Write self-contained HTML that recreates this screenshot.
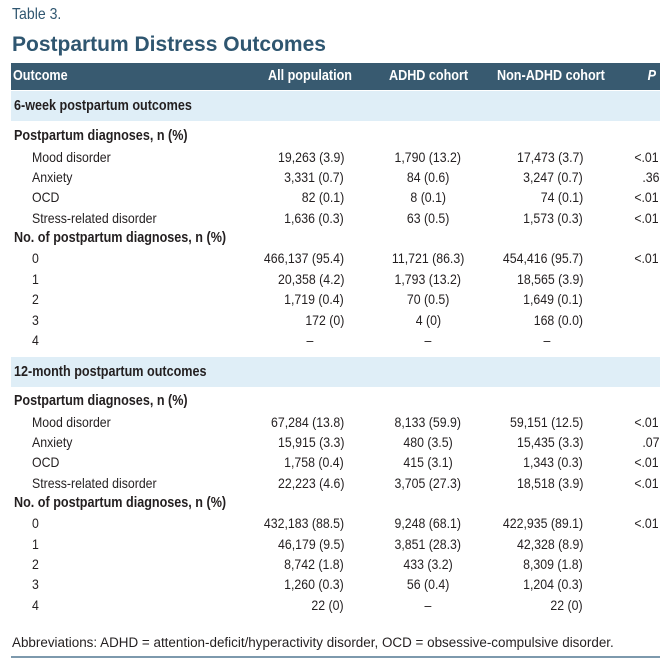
<!DOCTYPE html>
<html><head><meta charset="utf-8"><style>
body{margin:0;width:672px;height:669px;background:#fff;position:relative;font-family:"Liberation Sans",sans-serif;color:#231f20;overflow:hidden}
.a{position:absolute;white-space:nowrap;font-size:14px;line-height:20px}
.a span{display:inline-block;transform:scaleX(0.88)}
.L span{transform-origin:left center}
.R span{transform-origin:right center}
.C span{transform-origin:center center}
.K span{transform:scaleX(0.84)}
.band{position:absolute;left:11px;width:649px;height:30px;background:#dfeef7}
</style></head><body>
<div class="a L" style="left:12px;top:5px;font-size:16px;color:#2f5670"><span>Table 3.</span></div>
<div class="a" style="left:12px;top:33px;font-weight:bold;font-size:21px;color:#2f5670;line-height:24px">Postpartum Distress Outcomes</div>
<div style="position:absolute;left:11px;top:63px;width:649px;height:27px;background:#385a70"></div>
<div class="band" style="top:91px"></div>
<div class="band" style="top:357px"></div>
<div id="rows"></div>
<div class="a L" style="left:12px;top:633px;font-size:13.5px"><span style="transform:scaleX(0.995)">Abbreviations: ADHD = attention-deficit/hyperactivity disorder, OCD = obsessive-compulsive disorder.</span></div>
<div style="position:absolute;left:11px;top:656px;width:649px;height:2px;background:#7d99ad"></div>
<script>
const rows=[
[66,'h','Outcome','All population','ADHD cohort','Non-ADHD cohort','P'],
[96,'s','6-week postpartum outcomes'],
[126,'g','Postpartum diagnoses, n (%)'],
[147,'r','Mood disorder','19,263 (3.9)','1,790 (13.2)','17,473 (3.7)','<.01'],
[167,'r','Anxiety','3,331 (0.7)','84 (0.6)','3,247 (0.7)','.36'],
[187,'r','OCD','82 (0.1)','8 (0.1)','74 (0.1)','<.01'],
[208,'r','Stress-related disorder','1,636 (0.3)','63 (0.5)','1,573 (0.3)','<.01'],
[228,'g','No. of postpartum diagnoses, n (%)'],
[248,'r','0','466,137 (95.4)','11,721 (86.3)','454,416 (95.7)','<.01'],
[269,'r','1','20,358 (4.2)','1,793 (13.2)','18,565 (3.9)',''],
[289,'r','2','1,719 (0.4)','70 (0.5)','1,649 (0.1)',''],
[310,'r','3','172 (0)','4 (0)','168 (0.0)',''],
[330,'r','4','–','–','–',''],
[362,'s','12-month postpartum outcomes'],
[391,'g','Postpartum diagnoses, n (%)'],
[412,'r','Mood disorder','67,284 (13.8)','8,133 (59.9)','59,151 (12.5)','<.01'],
[432,'r','Anxiety','15,915 (3.3)','480 (3.5)','15,435 (3.3)','.07'],
[452,'r','OCD','1,758 (0.4)','415 (3.1)','1,343 (0.3)','<.01'],
[473,'r','Stress-related disorder','22,223 (4.6)','3,705 (27.3)','18,518 (3.9)','<.01'],
[493,'g','No. of postpartum diagnoses, n (%)'],
[513,'r','0','432,183 (88.5)','9,248 (68.1)','422,935 (89.1)','<.01'],
[534,'r','1','46,179 (9.5)','3,851 (28.3)','42,328 (8.9)',''],
[554,'r','2','8,742 (1.8)','433 (3.2)','8,309 (1.8)',''],
[574,'r','3','1,260 (0.3)','56 (0.4)','1,204 (0.3)',''],
[595,'r','4','22 (0)','–','22 (0)','']
];
const host=document.getElementById('rows');
function cell(top,text,style,name,cls){
 const d=document.createElement('div');
 d.className='a '+cls;
 
 
 d.style.cssText='top:'+top+'px;'+style;
 const s=document.createElement('span');
 s.textContent=text;
 d.appendChild(s);
 host.appendChild(d);
}
rows.forEach(r=>{
 const [t,k]=r;
 if(k==='s'){cell(t,r[2],'left:14px;font-weight:bold;font-size:15px','section-label','L K');return;}
 if(k==='g'){cell(t,r[2],'left:14px;font-weight:bold;font-size:15px','group-label','L K');return;}
 const hdr=k==='h';
 const base=hdr?'color:#fff;font-weight:bold;font-size:15px;':'';
 const dash=r[3]==='–';
 const kk=hdr?' K':'';
 cell(t,r[2],base+'left:'+(hdr?13:32)+'px',hdr?'header-outcome':'row-label','L'+kk);
 if(hdr){
  cell(t,r[3],base+'left:268px','header-all-population','L K');
  cell(t,r[4],base+'left:389px','header-adhd','L K');
  cell(t,r[5],base+'left:497px','header-non-adhd','L K');
  cell(t,r[6],base+'right:16px;font-style:italic','header-p','R K');
  return;
 }
 if(dash) cell(t,r[3],'left:300px;width:20px;text-align:center','value-all-population','C');
 else cell(t,r[3],'right:328px','value-all-population','R');
 cell(t,r[4],'left:368px;width:120px;text-align:center','value-adhd','C');
 if(dash) cell(t,r[5],'left:537px;width:20px;text-align:center','value-non-adhd','C');
 else cell(t,r[5],'right:89px','value-non-adhd','R');
 cell(t,r[6],'right:13px','value-p','R');
});
</script>
</body></html>
